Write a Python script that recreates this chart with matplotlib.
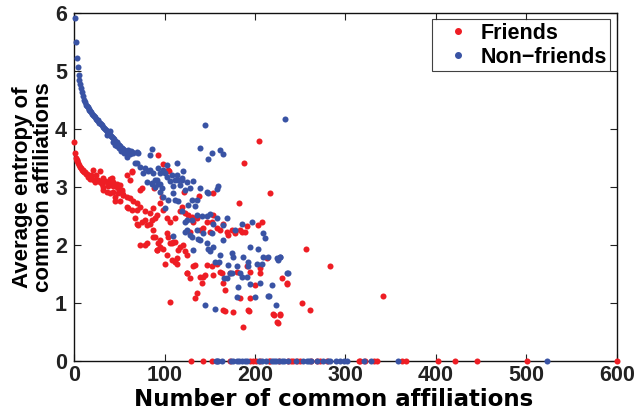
import matplotlib
matplotlib.use("Agg")
import matplotlib.pyplot as plt
from matplotlib.lines import Line2D

# ---- Friends (red) ----
friends_x = [0, 1.1, 2.2, 2.9, 3.7, 4.8, 5.5, 6.6, 7.5, 8.5, 9.4, 10.3, 11.2, 12.2, 13.1, 14, 15, 15.8, 16.8, 17.7, 18.6, 19.5,
             21.4, 22.3, 23.2, 24.1, 25, 26.9, 28.7, 28.7, 30.6, 32.4, 32.4, 32.4, 34.2, 36.1, 36.1, 37.9, 39.8, 39.8, 39.8,
             41.6, 43.5, 43.5, 43.5, 45.3, 45.3, 47.1, 47.1, 49, 49, 50.8, 50.8, 50.8, 52.7, 52.7, 54.5, 54.5,
             58.2, 58.2, 58.2, 60, 61.9, 61.9, 63.7, 63.7, 63.7, 65.6, 67.4, 69.2, 69.2, 69.2, 71.1, 72.9, 72.9, 72.9,
             74.8, 74.8, 78.4, 78.4, 78.4, 80.3, 80.3, 84, 84, 85.8, 87.7, 87.7, 87.7, 88.8, 89.5, 89.5, 91.3, 91.3, 92.1,
             93.2, 93.2, 95, 95, 95, 97, 98.7, 98.7, 98.7, 100.5, 102.4, 102.4, 102.4, 104.2, 104.2, 105.3, 106.1, 106.1,
             106.1, 107.9, 108, 109.8, 111.6, 111.6, 111.6, 113.4, 113.4, 115.3, 117.1, 117.1, 118.9, 120.8, 121.9,
             122.6, 122.6, 124.5, 124.5, 125.3, 126.3, 128.2, 128.2, 130, 131.9, 131.9, 133.7, 133.7, 135.5, 135.5,
             138.5, 139.2, 139.2, 141, 142.9, 142.9, 144.7, 146.6, 146.6, 150.3, 152.1, 152.1, 153.2, 153.9, 153.9,
             157.6, 157.6, 161.3, 161.3, 163.2, 165, 165, 165, 166.8, 166.8, 168.7, 170.6, 172.4, 174.2, 176, 177.9,
             179.7, 182.3, 183.4, 183.4, 185.3, 187.1, 187.8, 188.9, 190.8, 190.8, 192.6, 193.4, 194.5, 194.5, 200,
             203.7, 204, 205.5, 205.5, 207.4, 212.9, 216.6, 220.2, 221, 224, 225.5, 227.6, 228, 229.5, 235, 235,
             251.5, 256, 261, 283, 342,
             129, 143, 152, 172, 195, 198, 201, 205, 215, 217, 227, 236, 240, 242, 246, 250, 262, 268, 272, 280,
             315, 316, 322, 331, 335, 363, 367, 402, 421, 445, 501, 600]
friends_y = [3.78, 3.58, 3.5, 3.47, 3.44, 3.41, 3.38, 3.35, 3.33, 3.30, 3.29, 3.27, 3.26, 3.25, 3.23, 3.22, 3.2, 3.17, 3.18, 3.14, 3.2, 3.13,
             3.29, 3.12, 3.09, 3.2, 3.12, 3.12, 3.28, 3.09, 3.06, 3.15, 3.0, 2.95, 3.1, 3.09, 2.92, 3.01, 3.06, 2.89, 3.13,
             3.15, 3.09, 2.92, 3.01, 2.75, 2.83, 3.0, 3.06, 2.89, 2.98, 3.03, 2.75, 2.95, 2.95, 2.92, 2.86, 2.86,
             3.21, 2.83, 2.66, 2.63, 3.12, 2.81, 3.27, 2.6, 3.26, 2.75, 2.46, 2.72, 2.6, 2.37, 2.35, 2.66, 2.95, 2.0,
             2.98, 2.40, 2.43, 2.58, 2.0, 2.35, 2.03, 2.37, 2.55, 2.43, 2.63, 2.26, 2.14, 2.98, 2.46, 2.14, 2.52, 1.91, 1.92,
             3.55, 2.03, 2.72, 2.09, 1.97, 2.83, 3.39, 2.6, 1.94, 1.68, 2.46, 1.83, 2.2, 3.29, 2.14, 3.28, 2.40, 2.04,
             1.02, 1.74, 2.03, 2.06, 2.46, 2.06, 1.71, 1.77, 1.68, 1.91, 2.58, 1.97, 2.66, 2.0, 2.91,
             2.55, 1.89, 1.51, 1.83, 1.52, 2.52, 1.43, 2.23, 2.49, 2.40, 1.63, 1.66, 1.08, 2.46, 1.17,
             2.84, 2.26, 1.45, 1.34, 2.29, 1.45, 1.48, 2.40, 1.66, 2.23, 2.40, 1.63, 2.89, 2.52, 1.48,
             2.29, 1.68, 2.26, 1.54, 1.51, 2.37, 1.34, 0.88, 1.23, 0.87, 2.23, 2.17, 1.51, 2.26, 0.85, 2.2,
             1.54, 2.72, 2.26, 1.08, 2.23, 0.59, 3.41, 2.23, 2.32, 1.63, 0.88, 0.87, 1.08, 1.54, 1.31,
             2.35, 3.8, 1.60, 1.51, 2.40, 1.77, 2.89, 0.82, 0.8, 0.68, 0.65, 0.82, 0.8, 1.43, 1.34, 1.33,
             1.0, 1.93, 0.88, 1.63, 1.12,
             0, 0, 0, 0, 0, 0, 0, 0, 0, 0, 0, 0, 0, 0, 0, 0, 0, 0, 0, 0,
             0, 0, 0, 0, 0, 0, 0, 0, 0, 0, 0, 0]

# ---- Non-friends (blue) ----
nonfriends_x = [1, 1.8, 2.9, 4.4, 5.2, 5.9, 7, 8, 9, 10, 11, 12, 13, 14, 15, 16, 17, 18, 19, 20, 21, 22, 23, 24, 25,
                26, 27, 28, 29, 30, 31, 32, 33, 34, 35, 36, 37, 38, 39, 40, 41, 42, 43, 44, 45, 46, 47, 48, 49, 50,
                51, 52, 53, 54, 55, 56, 57, 58, 60, 62, 36, 40, 43, 45, 48, 50, 52, 55, 58, 60, 63, 65,
                63.7, 67.4, 69.2, 69.2, 71.1, 72.9, 76.6, 78.4, 80.3, 82.1, 83.9, 84, 85.8, 85.8, 85.8, 87.7, 89.5, 89.5,
                91.3, 93.2, 93.2, 95, 95, 95, 96.9, 98.7, 98.7, 100.5, 100.5, 102.4, 102.4, 104.2, 106.1, 107.9, 109,
                109.7, 109.7, 111.6, 111.6, 113.4, 113.4, 115.3, 115.3, 117.1, 118.9, 118.9, 119, 120.8, 122.6, 122.6,
                122.7, 124.5, 124.5, 124.5, 126.3, 128.2, 128.2, 130, 130, 130, 131.9, 131.9, 133.7, 135.5, 135.5,
                135.5, 137.4, 139.2, 139.2, 139.2, 141, 142.9, 144.7, 145, 146.6, 146.6, 146.6, 148.4, 148.4, 148.4,
                150.3, 150.3, 152.1, 152.1, 153.9, 153.9, 155.8, 155.8, 157.6, 157.6, 159.5, 160.6, 161.3, 161.3, 165,
                165, 165, 166.1, 168.7, 168.7, 170.6, 172.4, 174.2, 174.2, 176, 177.9, 179.7, 179.7, 181.6, 183.4,
                185.3, 185.3, 187.1, 190.8, 192.6, 192.6, 194.5, 194.5, 196.3, 200, 202.6, 203.7, 205.5, 207.4,
                209.2, 209.2, 211, 214.7, 214.7, 216, 218.4, 223, 224, 225, 227.6, 228, 233, 235, 237,
                157, 158, 159.5, 163, 174, 176, 180, 182, 186, 189, 191, 204, 208, 212, 219, 221, 223, 227, 230, 232,
                236, 245, 253, 257, 260, 262, 268, 275, 281, 283, 290, 294, 298, 302, 320, 328, 358, 523]
nonfriends_y = [5.92, 5.49, 5.23, 5.06, 4.93, 4.84, 4.77, 4.70, 4.63, 4.56, 4.50, 4.46, 4.42, 4.39, 4.37, 4.35, 4.33, 4.31,
                4.29, 4.26, 4.24, 4.22, 4.20, 4.18, 4.16, 4.15, 4.13, 4.11, 4.10, 4.08, 4.06, 4.04, 4.02, 4.00, 3.99,
                3.97, 3.95, 3.94, 3.92, 3.90, 3.88, 3.86, 3.84, 3.82, 3.80, 3.78, 3.77, 3.75, 3.73, 3.72, 3.70, 3.68,
                3.67, 3.65, 3.64, 3.62, 3.61, 3.59, 3.58, 3.56, 3.9, 3.97, 3.78, 3.72, 3.7, 3.68, 3.62, 3.58, 3.52,
                3.63, 3.62, 3.58,
                3.6, 3.41, 3.42, 3.6, 3.59, 3.35, 3.24, 3.32, 3.09, 3.27, 3.55, 3.30, 3.65, 3.07, 3.06, 3.24, 3.12, 3.0,
                3.12, 3.32, 3.06, 3.24, 3.06, 2.92, 2.98, 3.29, 2.83, 3.24, 2.63, 3.18, 3.38, 2.78, 3.10, 3.21, 2.15,
                3.01, 2.89, 3.12, 2.78, 3.41, 3.21, 3.12, 2.75, 3.03, 3.12, 2.58, 3.15, 3.27, 2.95, 2.40,
                2.23, 3.09, 2.43, 2.26, 2.69, 2.98, 2.17, 2.78, 2.43, 2.14, 3.11, 1.91, 2.67, 2.78, 2.52,
                2.26, 2.11, 2.98, 3.67, 2.09, 2.50, 2.21, 0.97, 4.06, 2.92, 2.50, 2.03, 2.89, 3.49, 1.94,
                2.53, 1.89, 3.58, 2.20, 2.37, 1.97, 1.71, 0.90, 2.96, 2.46, 3.01, 1.71, 3.64, 1.83, 3.57,
                2.35, 2.09, 1.43, 2.46, 1.43, 1.66, 1.51, 1.86, 1.52, 1.80, 2.26, 1.63, 1.11, 1.28, 1.51,
                2.37, 1.45, 1.80, 1.45, 1.71, 1.63, 1.97, 1.32, 2.40, 1.11, 1.68, 1.94, 1.34, 1.67,
                2.20, 1.80, 2.12, 1.80, 1.12, 1.12, 1.31, 0.97, 1.77, 1.74, 1.80, 1.79, 4.17, 1.51, 1.51,
                0, 0, 0, 0, 0, 0, 0, 0, 0, 0, 0, 0, 0, 0, 0, 0, 0, 0, 0, 0,
                0, 0, 0, 0, 0, 0, 0, 0, 0, 0, 0, 0, 0, 0, 0, 0, 0, 0]

x_ticks = [0, 100, 200, 300, 400, 500, 600]
y_ticks = [0, 1, 2, 3, 4, 5, 6]

RED = "#ee1d24"
BLUE = "#3953a4"

plt.rcParams["font.family"] = ["Liberation Sans", "DejaVu Sans"]
plt.rcParams["font.weight"] = "bold"

fig = plt.figure(figsize=(6.36, 4.16), dpi=100)
ax = fig.add_axes([0.1164, 0.132, 0.8536, 0.837])

ax.scatter(friends_x, friends_y, s=19, color=RED, linewidths=0, zorder=3, clip_on=False)
ax.scatter(nonfriends_x, nonfriends_y, s=19, color=BLUE, linewidths=0, zorder=3, clip_on=False)

ax.set_xlim(0, 600)
ax.set_ylim(0, 6)
ax.set_xticks(x_ticks)
ax.set_yticks(y_ticks)
ax.set_xticklabels([str(v) for v in x_ticks], fontsize=15.5, fontweight="bold")
ax.set_yticklabels([str(v) for v in y_ticks], fontsize=15.5, fontweight="bold")
ax.tick_params(direction="in", length=5, width=0.8, top=True, right=True, pad=3, colors="#222222")
ax.tick_params(axis="y", pad=5)
for sp in ax.spines.values():
    sp.set_linewidth(1.0)
    sp.set_color("#111111")

ax.set_xlabel("Number of common affiliations", fontsize=16.5, fontweight="bold",
              family=["DejaVu Sans"])
ax.xaxis.set_label_coords(0.478, -0.078)
ax.set_ylabel("Average entropy of\ncommon affiliations", fontsize=16, fontweight="bold",
              labelpad=1, linespacing=0.95)

handles = [Line2D([], [], linestyle="none", marker="o", markersize=4, color=RED),
           Line2D([], [], linestyle="none", marker="o", markersize=4, color=BLUE)]
leg = ax.legend(handles, ["Friends", "Non\u2212friends"], loc="upper right",
                prop={"size": 15.5, "weight": "bold"}, frameon=True, fancybox=False,
                edgecolor="#111111", borderaxespad=0.3, handlelength=2.05, handletextpad=0.05,
                borderpad=0.15, labelspacing=0.15)
leg.get_frame().set_linewidth(0.8)

fig.savefig("out.png", dpi=100)
